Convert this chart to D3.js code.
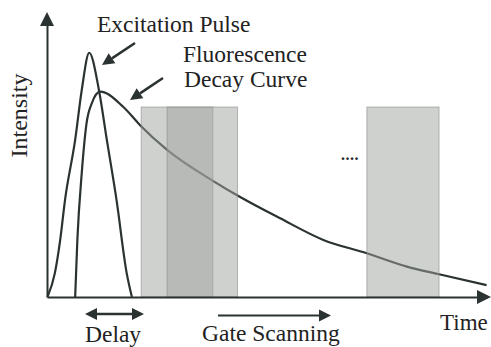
<!DOCTYPE html>
<html>
<head>
<meta charset="utf-8">
<script src="https://cdn.jsdelivr.net/npm/d3@7"></script>
<style>
  body { margin: 0; background: #fff; }
</style>
</head>
<body>
<div id="chart"></div>
<script>
// excitation pulse (time, intensity), arbitrary units
var pulseTime = [0.1, 1.8, 3.0, 4.1, 6.4, 7.9, 9.6, 11.8, 13.6, 15.8, 18.1, 19.3];
var pulseInt  = [0, 8.5, 20.1, 34.2, 55.3, 72.9, 86.0, 72.9, 55.3, 34.2, 8.5, 0];

// fluorescence decay curve
var decayTime = [6.4, 6.9, 7.9, 9.0, 10.2, 12.1, 17.3, 21.1, 27.3, 37.7, 43.9, 53.0, 62.8, 72.7, 81.8, 89.1, 99.9];
var decayInt  = [0, 20.1, 43.7, 61.3, 68.3, 72.3, 67.0, 60.6, 51.8, 40.9, 35.2, 27.7, 20.1, 15.4, 10.7, 8.0, 4.2];

// gates: start, end, height
var gateStart  = [21.4, 27.3, 72.7];
var gateEnd    = [37.7, 43.3, 89.1];
var gateHeight = [66.9, 66.9, 66.9];

var width = 491, height = 347;
var ink = "#2b3232";
var serif = "'Liberation Serif', 'DejaVu Serif', 'Times New Roman', Times, serif";

var x = d3.scaleLinear().domain([0, 100]).range([47, 487]);
var y = d3.scaleLinear().domain([0, 100]).range([297, 13]);

var svg = d3.select("#chart").append("svg")
    .attr("width", width)
    .attr("height", height)
    .attr("font-family", serif);

var pulse = pulseTime.map(function(t, i) { return {t: t, v: pulseInt[i]}; });
var decay = decayTime.map(function(t, i) { return {t: t, v: decayInt[i]}; });
var gates = gateStart.map(function(s, i) { return {s: s, e: gateEnd[i], h: gateHeight[i]}; });

var line = d3.line()
    .x(function(d) { return x(d.t); })
    .y(function(d) { return y(d.v); })
    .curve(d3.curveMonotoneX);

svg.append("path")
    .datum(pulse)
    .attr("d", line)
    .attr("fill", "none")
    .attr("stroke", ink)
    .attr("stroke-width", 2.2);

svg.append("path")
    .datum(decay)
    .attr("d", line)
    .attr("fill", "none")
    .attr("stroke", ink)
    .attr("stroke-width", 2.2);

// gates drawn over the curve
svg.selectAll(".gate")
    .data(gates)
  .enter().append("rect")
    .attr("class", "gate")
    .attr("x", function(d) { return x(d.s); })
    .attr("y", function(d) { return y(d.h); })
    .attr("width", function(d) { return x(d.e) - x(d.s); })
    .attr("height", function(d) { return y(0) - y(d.h); })
    .attr("fill", "rgb(160,163,160)")
    .attr("fill-opacity", 0.5)
    .attr("stroke", "#8a8d8a")
    .attr("stroke-opacity", 0.6)
    .attr("stroke-width", 1);

// axes
var xAxisScale = x.copy().domain([0, 98]).range([47, 480]);
var yAxisScale = y.copy().domain([0, 97]).range([297, 22]);

svg.append("g")
    .attr("transform", "translate(0," + y(0) + ")")
    .call(d3.axisBottom(xAxisScale).tickValues([]).tickSizeOuter(0))
    .select(".domain").attr("stroke", ink).attr("stroke-width", 2);

svg.append("g")
    .attr("transform", "translate(" + x(0) + ",0)")
    .call(d3.axisLeft(yAxisScale).tickValues([]).tickSizeOuter(0))
    .select(".domain").attr("stroke", ink).attr("stroke-width", 2);

svg.append("path")
    .attr("d", "M491,297 L477,290 L477,304 Z")
    .attr("fill", ink);
svg.append("path")
    .attr("d", "M47,12 L40,26 L54,26 Z")
    .attr("fill", ink);

// arrow helper
function arrow(x1, y1, x2, y2, w) {
  var a = Math.atan2(y2 - y1, x2 - x1), len = 12, hw = 6;
  var bx = x2 - len * Math.cos(a), by = y2 - len * Math.sin(a);
  svg.append("line")
      .attr("x1", x1).attr("y1", y1).attr("x2", bx).attr("y2", by)
      .attr("stroke", ink).attr("stroke-width", w || 2.5);
  svg.append("path")
      .attr("d", "M" + x2 + "," + y2 +
                 "L" + (bx + hw * Math.sin(a)) + "," + (by - hw * Math.cos(a)) +
                 "L" + (bx - hw * Math.sin(a)) + "," + (by + hw * Math.cos(a)) + "Z")
      .attr("fill", ink);
}

arrow(135, 43, 102, 65);
arrow(163, 78, 130, 100);
arrow(115, 314, 144, 314, 2.5);
arrow(115, 314, 85, 314, 2.5);
arrow(218, 315.5, 331, 315.5, 2);

// labels
function label(tx, ty, size, str) {
  return svg.append("text")
      .attr("x", tx).attr("y", ty)
      .attr("font-family", serif)
      .attr("fill", "#222")
      .style("font-size", size + "px")
      .text(str);
}

label(97, 31.5, 23.5, "Excitation Pulse");
label(183, 61.5, 23.5, "Fluorescence");
label(184, 87, 23.5, "Decay Curve");
label(0, 0, 24, "Intensity")
    .attr("transform", "translate(26.5,115.5) rotate(-90)")
    .attr("text-anchor", "middle");
label(85, 341.5, 23.5, "Delay");
label(202, 341, 23.5, "Gate Scanning");
label(440, 330, 23, "Time");
label(341, 160, 16, "....")
    .style("font-weight", "bold")
    .style("letter-spacing", "0.5px");
</script>
</body>
</html>
